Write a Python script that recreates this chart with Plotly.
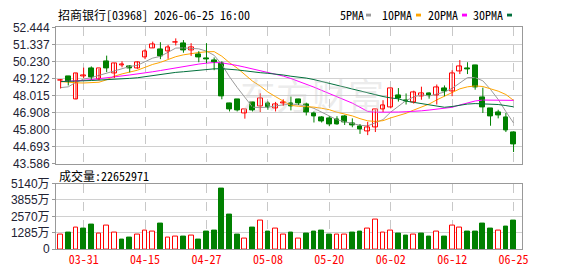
import plotly.graph_objects as go

# ---------------- data ----------------
dates = ["03-26","03-27","03-30","03-31","04-01","04-02","04-08","04-09","04-10","04-13",
         "04-14","04-15","04-16","04-17","04-20","04-21","04-22","04-23","04-24","04-27",
         "04-28","04-29","04-30","05-04","05-05","05-06","05-07","05-08","05-11","05-12",
         "05-13","05-14","05-15","05-18","05-19","05-20","05-21","05-22","05-26","05-27",
         "05-28","05-29","06-01","06-02","06-03","06-04","06-05","06-08","06-09","06-10",
         "06-11","06-12","06-15","06-16","06-17","06-18","06-22","06-23","06-24","06-25"]

opens  = [48.98,49.29,47.77,49.28,49.77,49.08,50.24,49.46,50.00,49.91,
          49.81,50.51,51.11,51.00,50.90,51.46,51.42,50.96,50.69,50.42,
          50.28,50.12,47.52,47.77,46.84,47.54,47.29,47.48,47.15,47.52,
          47.49,47.77,47.46,46.82,46.61,46.55,46.49,46.67,46.21,46.00,
          45.69,45.95,47.14,47.26,48.02,47.70,47.56,47.97,48.16,48.01,
          48.47,48.26,49.56,49.81,49.95,47.91,47.15,46.92,46.61,45.60]
highs  = [49.09,49.29,49.48,49.83,49.91,49.75,50.61,50.13,50.24,49.99,
          50.24,51.02,51.52,51.48,51.31,51.73,51.62,51.42,50.90,51.42,
          50.49,50.24,47.54,47.78,47.10,47.60,48.16,47.64,47.60,47.77,
          47.95,47.80,47.55,46.98,46.67,46.67,46.67,46.74,46.53,46.16,
          46.30,47.09,47.71,48.47,48.50,48.15,48.33,48.59,48.22,48.73,
          48.67,49.66,50.32,50.18,50.01,48.53,47.15,47.09,46.88,45.68]
lows   = [48.47,48.67,47.77,49.15,49.04,49.00,49.54,49.15,49.85,49.52,
          49.75,50.38,51.11,50.38,50.40,51.27,50.80,50.59,50.18,50.12,
          49.66,47.77,46.98,46.98,46.51,46.98,46.94,47.09,46.98,47.35,
          47.05,47.40,46.72,46.26,46.26,46.02,46.12,46.10,45.95,45.52,
          45.44,45.64,46.95,47.18,47.62,47.43,47.49,47.74,47.81,47.43,
          47.97,47.97,49.41,49.41,48.39,46.88,46.05,46.53,45.64,44.34]
closes = [49.00,48.94,49.46,49.31,49.21,49.75,49.77,50.12,50.03,49.81,
          50.16,50.90,51.35,50.59,51.15,51.50,50.96,51.15,50.49,50.38,
          50.18,47.97,47.12,47.05,47.10,47.07,47.80,47.27,47.44,47.56,
          47.29,47.49,46.94,46.63,46.36,46.12,46.16,46.26,46.05,45.81,
          45.91,47.09,47.40,48.47,47.85,47.64,48.22,48.16,48.01,48.53,
          48.26,49.46,49.93,49.70,48.53,47.23,46.67,46.69,45.75,44.82]
prev_close = 48.80

# volume in 万 shares
volumes = [1165,1261,1706,1632,1929,1236,1830,1310,742,890,
           1161,1459,1385,2003,890,964,964,1039,742,1410,
           1484,4749,2745,1113,816,1706,2226,1336,1632,1113,
           1261,791,1187,1336,1484,1113,1162,1162,1261,1410,
           1632,2300,1310,1459,1187,1039,1162,1187,964,1385,
           964,1855,1706,1410,1336,2003,1632,1484,1780,2265]

ma5  = [48.53,48.58,48.88,49.08,49.18,49.33,49.50,49.63,49.78,49.90,
        49.98,50.20,50.45,50.56,50.83,51.10,51.11,51.07,51.05,50.90,
        50.63,50.03,49.23,48.54,47.88,47.26,47.23,47.26,47.34,47.43,
        47.47,47.41,47.34,47.18,46.94,46.71,46.44,46.31,46.19,46.08,
        46.04,46.22,46.45,46.94,47.34,47.69,47.92,48.07,47.98,48.11,
        48.24,48.48,48.84,49.18,49.18,48.97,48.41,47.76,46.97,46.23]
ma10 = [48.92,48.86,48.84,48.83,48.84,48.88,49.04,49.27,49.42,49.54,
        49.66,49.85,50.04,50.17,50.36,50.54,50.66,50.76,50.81,50.86,
        50.87,50.57,50.15,49.80,49.39,48.95,48.63,48.24,47.94,47.66,
        47.37,47.32,47.30,47.26,47.19,47.09,46.93,46.83,46.69,46.51,
        46.37,46.33,46.38,46.56,46.71,46.86,47.07,47.26,47.46,47.73,
        47.96,48.20,48.45,48.58,48.64,48.60,48.45,48.30,48.08,47.70]
ma20 = [48.92,48.94,48.96,49.00,49.05,49.10,49.16,49.22,49.29,49.35,
        49.41,49.48,49.56,49.64,49.73,49.82,49.91,49.99,50.06,50.12,
        50.16,50.14,50.07,49.97,49.86,49.74,49.64,49.52,49.42,49.28,
        49.12,48.95,48.77,48.56,48.35,48.15,47.95,47.73,47.52,47.25,
        46.98,46.93,46.92,46.92,46.94,46.96,46.98,47.02,47.07,47.12,
        47.17,47.25,47.40,47.55,47.66,47.72,47.72,47.72,47.72,47.70]
ma30 = [48.92,48.93,48.95,48.97,48.99,49.02,49.04,49.07,49.10,49.13,
        49.17,49.24,49.32,49.40,49.47,49.52,49.56,49.61,49.66,49.71,
        49.75,49.76,49.73,49.68,49.62,49.54,49.50,49.46,49.42,49.35,
        49.27,49.22,49.15,49.05,48.93,48.82,48.70,48.58,48.46,48.32,
        48.18,48.05,47.95,47.86,47.80,47.65,47.57,47.48,47.40,47.32,
        47.25,47.30,47.40,47.46,47.49,47.48,47.46,47.43,47.36,47.28]

label_dates = ["03-31","04-15","04-27","05-08","05-20","06-02","06-12","06-25"]
price_ticks = [43.586,44.693,45.800,46.908,48.015,49.122,50.230,51.337,52.444]
price_ticktext = ["43.586","44.693","45.800","46.908","48.015","49.122","50.230","51.337","52.444"]
vol_ticks = [0,1285,2570,3855,5140]
vol_ticktext = ["0","1285万","2570万","3855万","5140万"]

title_text = "招商银行[03968] 2026-06-25 16:00"
vol_title = "成交量:22652971"
ma_names = ["5PMA","10PMA","20PMA","30PMA"]

# ---------------- style ----------------
RED = "#FF0000"
GREEN = "#008000"
MA_COLORS = ["#9A9A9A","#FFA500","#FF00FF","#00703C"]
GRID = "#D0D0D0"
FRAME = "#999999"
MONO = "Noto Sans Mono CJK SC, Liberation Mono, monospace"
SANS = "Liberation Sans, Arial, Noto Sans CJK SC, sans-serif"

W, H = 578, 276
ML, MR = 56, 56
PW = W - ML - MR
n = len(dates)
xs = list(range(n))
tickvals = [dates.index(d) for d in label_dates]

def px(p):  # page pixel x -> paper fraction
    return (p - ML) / PW

def py(p):  # page pixel y -> paper fraction
    return 1 - p / H

fig = go.Figure()

# MA lines
for name, vals, col in zip(ma_names, [ma5, ma10, ma20, ma30], MA_COLORS):
    fig.add_trace(go.Scatter(x=xs, y=vals, mode="lines", line=dict(color=col, width=1),
                             xaxis="x", yaxis="y", hoverinfo="skip", showlegend=False))

# wicks
for up in (True, False):
    wx, wy = [], []
    for i in xs:
        if (closes[i] >= opens[i]) == up:
            wx += [i, i, None]
            wy += [lows[i], highs[i], None]
    fig.add_trace(go.Scatter(x=wx, y=wy, mode="lines",
                             line=dict(color=RED if up else GREEN, width=1),
                             xaxis="x", yaxis="y", hoverinfo="skip", showlegend=False))

# bodies
for up in (True, False):
    bx, bb, bh = [], [], []
    for i in xs:
        if (closes[i] >= opens[i]) == up:
            bx.append(i)
            bb.append(min(opens[i], closes[i]))
            bh.append(max(abs(closes[i] - opens[i]), 0.012))
    fig.add_trace(go.Bar(x=bx, y=bh, base=bb, width=0.62,
                         marker=dict(color="white" if up else GREEN,
                                     line=dict(color=RED if up else GREEN, width=1)),
                         xaxis="x", yaxis="y", hoverinfo="skip", showlegend=False))

# volume bars (colour by change vs previous close)
prevs = [prev_close] + closes[:-1]
for up in (True, False):
    vx, vy = [], []
    for i in xs:
        if (closes[i] >= prevs[i]) == up:
            vx.append(i)
            vy.append(volumes[i])
    fig.add_trace(go.Bar(x=vx, y=vy, width=0.62,
                         marker=dict(color="white" if up else GREEN,
                                     line=dict(color=RED if up else GREEN, width=1)),
                         xaxis="x2", yaxis="y2", hoverinfo="skip", showlegend=False))

main_top, main_bot = 21.5, 165.0
vol_top, vol_bot = 186.0, 255.0

xr = [-0.6, 60.1]
common_x = dict(range=xr, showgrid=True, gridcolor="#C8C8C8", griddash="dash", gridwidth=1,
                tickmode="array", tickvals=tickvals, zeroline=False,
                showline=True, linecolor=FRAME, linewidth=1, mirror=True, fixedrange=True)

fig.update_layout(
    width=W, height=H, margin=dict(l=ML, r=MR, t=0, b=0),
    paper_bgcolor="white", plot_bgcolor="white", barmode="overlay", bargap=0,
    showlegend=False,
    xaxis=dict(domain=[0, 1], anchor="y", showticklabels=False, ticks="", **common_x),
    yaxis=dict(domain=[py(main_bot), py(main_top)], range=[price_ticks[0], price_ticks[-1]],
               tickmode="array", tickvals=price_ticks, ticktext=price_ticktext,
               showgrid=True, gridcolor=GRID, gridwidth=1, zeroline=False,
               showline=True, linecolor=FRAME, linewidth=1, mirror=True,
               ticks="outside", ticklen=3, tickcolor=FRAME,
               tickfont=dict(family=SANS, size=12, color="#222233"), fixedrange=True),
    xaxis2=dict(domain=[0, 1], anchor="y2", showticklabels=True, ticks="",
                ticktext=label_dates,
                tickfont=dict(family=MONO, size=12, color=RED), **common_x),
    yaxis2=dict(domain=[py(vol_bot), py(vol_top)], range=[0, vol_ticks[-1]],
                tickmode="array", tickvals=vol_ticks, ticktext=vol_ticktext,
                showgrid=True, gridcolor=GRID, gridwidth=1, zeroline=False,
                showline=True, linecolor=FRAME, linewidth=1, mirror=True,
                ticks="outside", ticklen=3, tickcolor=FRAME,
                tickfont=dict(family=SANS, size=12, color="#222233"), fixedrange=True),
)

ann = []
ann.append(dict(text=title_text, x=px(56), y=py(8), xref="paper", yref="paper",
                xanchor="left", yanchor="middle", showarrow=False,
                font=dict(family=MONO, size=12, color="#000000")))
ann.append(dict(text=vol_title, x=px(57), y=py(177), xref="paper", yref="paper",
                xanchor="left", yanchor="middle", showarrow=False,
                font=dict(family=MONO, size=12, color="#000000")))
# watermark
ann.append(dict(text="东方财富", x=px(312), y=py(92), xref="paper", yref="paper",
                xanchor="center", yanchor="middle", showarrow=False,
                font=dict(family="Noto Sans CJK SC", size=36, color="rgba(200,200,200,0.35)")))

shapes = []
leg_x = [338, 380, 425.5, 471]
sq_x = [366, 416, 462, 507]
for name, lx, sx, col in zip(ma_names, leg_x, sq_x, MA_COLORS):
    ann.append(dict(text=name, x=px(lx), y=py(8), xref="paper", yref="paper",
                    xanchor="left", yanchor="middle", showarrow=False,
                    font=dict(family=MONO, size=12, color="#000000")))
    shapes.append(dict(type="rect", xref="paper", yref="paper",
                       x0=px(sx), x1=px(sx + 5), y0=py(10), y1=py(7),
                       fillcolor=col, line=dict(width=0)))

fig.update_layout(annotations=ann, shapes=shapes)

fig.write_html("out.html")
